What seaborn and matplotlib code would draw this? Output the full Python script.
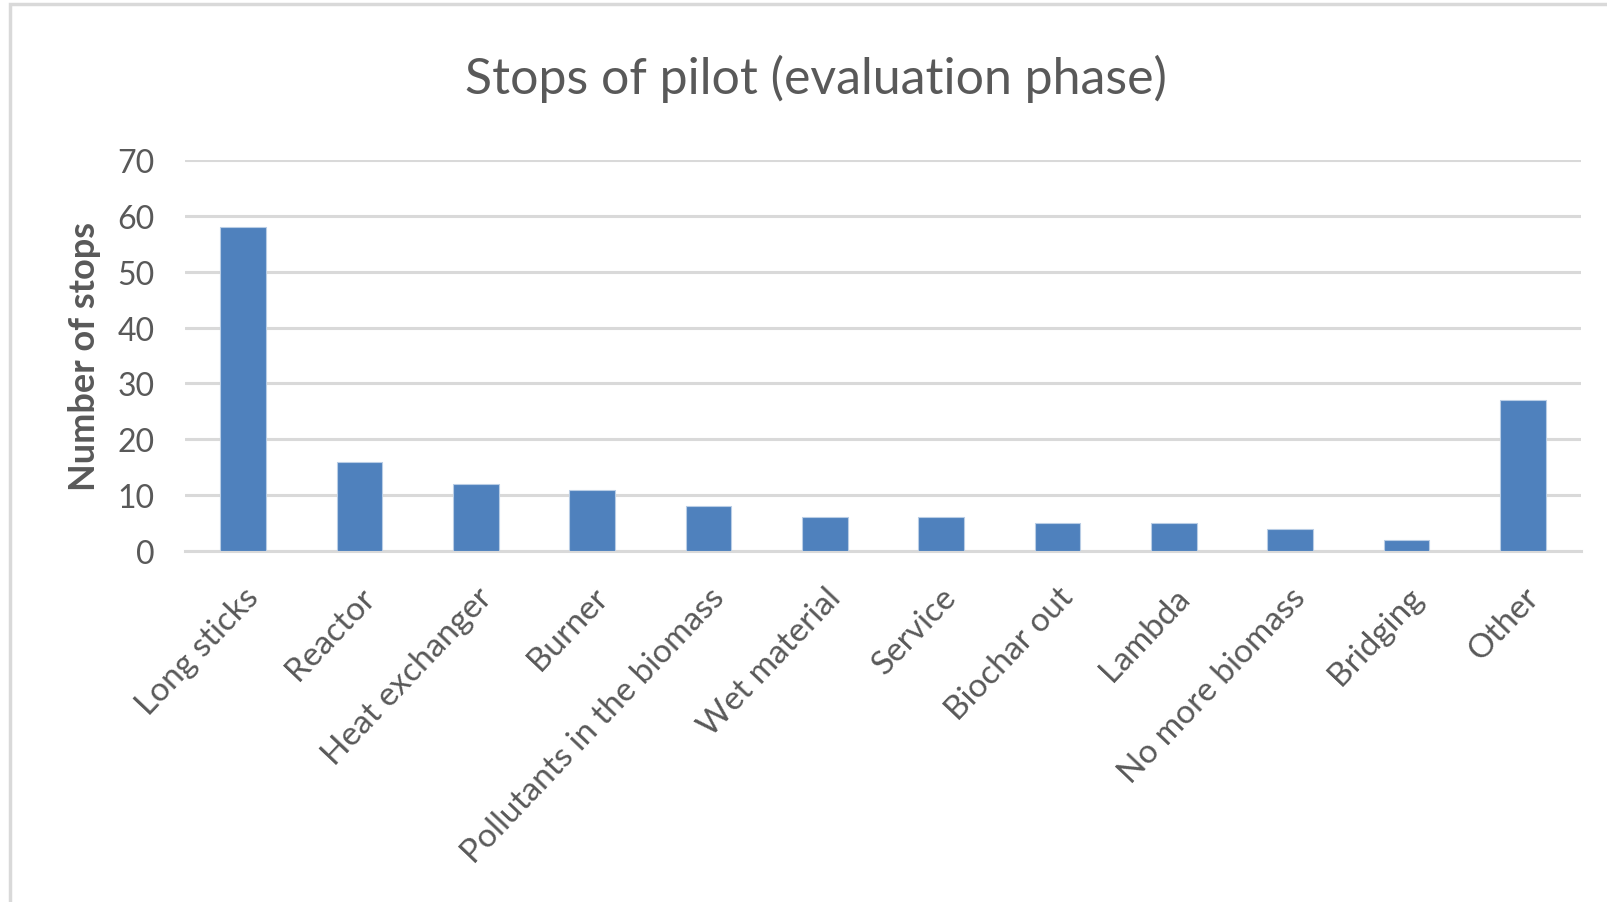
import matplotlib
matplotlib.use("Agg")
import matplotlib.pyplot as plt
import seaborn as sns
import pandas as pd
from matplotlib.patches import Rectangle

categories = ["Long sticks", "Reactor", "Heat exchanger", "Burner",
              "Pollutants in the biomass", "Wet material", "Service",
              "Biochar out", "Lambda", "No more biomass", "Bridging", "Other"]
stops = [58, 16, 12, 11, 8, 6, 6, 5, 5, 4, 2, 27]
yticks = [0, 10, 20, 30, 40, 50, 60, 70]

df = pd.DataFrame({"category": categories, "stops": stops})

sns.set_theme(style="white")
plt.rcParams['font.family'] = ['Lato', 'DejaVu Sans']

fig = plt.figure(figsize=(16.08, 9.03), dpi=100)
ax = fig.add_axes([185/1608, 1 - 552/903, (1581-185)/1608, (552-161)/903])

gray = "#595959"
sns.barplot(data=df, x="category", y="stops", color="#4f81bd", saturation=1,
            width=0.39, ax=ax, zorder=3)
for p in ax.patches:
    p.set_edgecolor("#b9cde5")
    p.set_linewidth(0.8)

ax.set_ylim(0, 70)
ax.set_yticks(yticks)
ax.set_xlim(-0.5, len(categories) - 0.5)
ax.yaxis.grid(True, color="#d9d9d9", linewidth=2.2, zorder=0)
ax.set_axisbelow(True)
for s in ["top", "right", "left"]:
    ax.spines[s].set_visible(False)
ax.spines["bottom"].set_color("#d9d9d9")
ax.spines["bottom"].set_linewidth(2.2)
ax.tick_params(axis="y", length=0, pad=22, labelsize=23, labelcolor=gray)
ax.tick_params(axis="x", length=0, pad=22, labelsize=24, labelcolor=gray)
ax.set_xticks(range(len(categories)))
ax.set_xticklabels(categories, rotation=46.5, ha="right", rotation_mode="anchor")
ax.set_xlabel("")
ax.set_ylabel("Number of stops", fontsize=26, color=gray, fontweight="bold", labelpad=12)

fig.text(0.5075, 1 - 79/903, "Stops of pilot (evaluation phase)", ha="center", va="center",
         fontsize=36, color=gray)

fig.patches.append(Rectangle((10/1608, -0.1), 1.2, 1 - 5/903 + 0.1, transform=fig.transFigure,
                             fill=False, edgecolor="#d9d9d9", linewidth=2.5))

fig.savefig("out.png", dpi=100)
